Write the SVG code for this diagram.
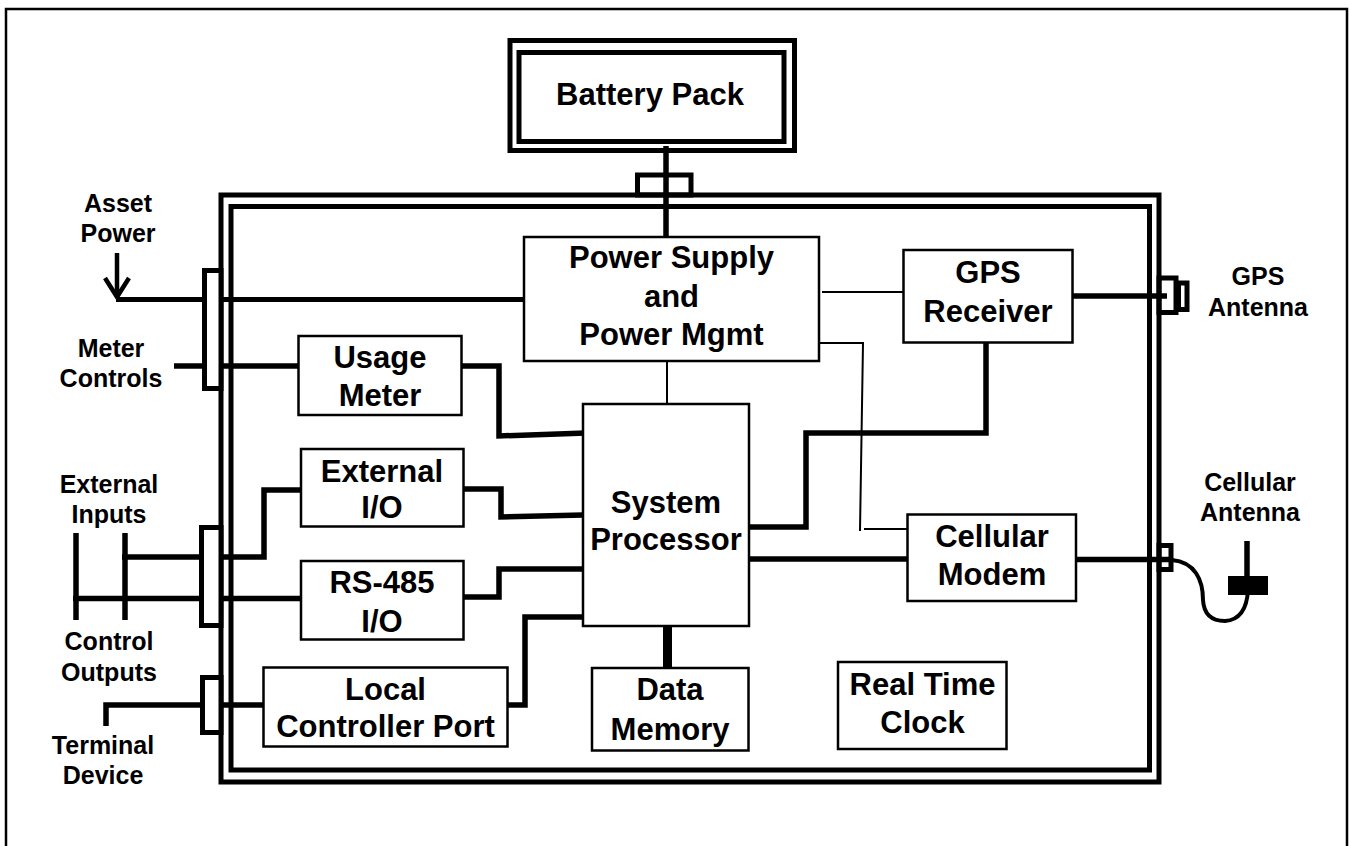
<svg xmlns="http://www.w3.org/2000/svg" width="1350" height="846" viewBox="0 0 1350 846">
<style>
.box{fill:#fff;stroke:#000;stroke-width:2.5}
.dbl{fill:none;stroke:#000;stroke-width:5}
.conn{fill:#fff;stroke:#000;stroke-width:5}
.connn{fill:none;stroke:#000;stroke-width:5}
.thick{fill:none;stroke:#000;stroke-width:5.5}
.thin{fill:none;stroke:#000;stroke-width:2}
.t{font-family:"Liberation Sans",Arial,sans-serif;font-weight:bold;font-size:31px;text-anchor:middle;fill:#000}
.s{font-family:"Liberation Sans",Arial,sans-serif;font-weight:bold;font-size:25px;text-anchor:middle;fill:#000}
</style>
<rect x="0" y="0" width="1350" height="846" fill="#fff"/>
<rect x="6" y="9" width="1341" height="860" fill="none" stroke="#000" stroke-width="2.5"/>
<g id="enclosure">
<rect class="dbl" x="221" y="195" width="938" height="587"/>
<rect class="dbl" x="231" y="206.5" width="918.5" height="563.5"/>
</g>
<g id="connectors">
<line class="thick" x1="666" y1="146" x2="666" y2="237"/>
<line class="thin" x1="667" y1="361" x2="667" y2="404"/>
<line class="thin" x1="822" y1="292" x2="903" y2="292"/>
<polyline class="thin" points="819,343 863,343 860,531"/>
<line class="thin" x1="864" y1="529" x2="907" y2="529"/>
<path class="thick" d="M749,527 H806 V433 H986 V343"/>
<line class="thick" x1="749" y1="559" x2="907" y2="559"/>
<line class="thick" x1="1073" y1="296" x2="1167" y2="296"/>
<line class="thick" x1="1076" y1="559.5" x2="1173" y2="559.5"/>
<path fill="none" stroke="#000" stroke-width="4" d="M1172,560 C1195,562 1203,580 1203,600 C1204,617 1214,621 1225,621 C1240,620 1247,608 1248,590"/>
<rect x="1228" y="576" width="40" height="19" fill="#000"/>
<line class="thick" x1="1247" y1="541" x2="1247" y2="578"/>
<line x1="667.5" y1="626" x2="667.5" y2="668" stroke="#000" stroke-width="9"/>
<path class="thick" d="M462,366 H499 V436 L586,433"/>
<path class="thick" d="M463,489 H501 V517 L583,515"/>
<path class="thick" d="M463,597 H499 V569 H583"/>
<path class="thick" d="M507,705 H525 V617 H583"/>
<line x1="116" y1="299.5" x2="524" y2="299.5" stroke="#000" stroke-width="5"/>
<line x1="117" y1="253" x2="117" y2="296" stroke="#000" stroke-width="4.5"/>
<polyline points="105,278 117,297 129,278" fill="none" stroke="#000" stroke-width="4.5"/>
<line class="thick" x1="174" y1="366" x2="298" y2="366"/>
<line class="thick" x1="76" y1="533" x2="76" y2="620"/>
<line class="thick" x1="125" y1="533" x2="125" y2="620"/>
<path class="thick" d="M122,557 H264 V490 H300"/>
<line class="thick" x1="73" y1="598.5" x2="300" y2="598.5"/>
<path class="thick" d="M106,726 V705 H263"/>
<rect class="conn" x="204.5" y="270.5" width="16.5" height="118"/>
<rect class="conn" x="201.5" y="527.5" width="19.5" height="98"/>
<rect class="conn" x="202.5" y="677.5" width="18.5" height="55"/>
<rect class="connn" x="637.5" y="175" width="53.5" height="20"/>
<rect class="connn" x="1159" y="278" width="17" height="34.5"/>
<rect class="connn" x="1178.5" y="283" width="8.5" height="26.5"/>
<rect class="connn" x="1159" y="545.5" width="12" height="24"/>
</g>
<g id="battery">
<rect class="dbl" x="510" y="40.5" width="284.5" height="110"/>
<rect class="dbl" x="519" y="52.5" width="265" height="89"/>
<text class="t" x="650" y="105">Battery Pack</text>
</g>
<g id="power">
<rect class="box" x="524" y="237" width="295" height="124"/>
<text class="t" x="671.5" y="268">Power Supply</text>
<text class="t" x="671.5" y="306.5">and</text>
<text class="t" x="671.5" y="345">Power Mgmt</text>
</g>
<g id="gps">
<rect class="box" x="903.5" y="250" width="169" height="92.5"/>
<text class="t" x="988" y="283">GPS</text>
<text class="t" x="988" y="322">Receiver</text>
</g>
<g id="usage">
<rect class="box" x="298.5" y="336" width="163" height="79"/>
<text class="t" x="380" y="368">Usage</text>
<text class="t" x="380" y="406">Meter</text>
</g>
<g id="processor">
<rect class="box" x="583" y="404" width="166" height="222"/>
<text class="t" x="666" y="513">System</text>
<text class="t" x="666" y="550">Processor</text>
</g>
<g id="extio">
<rect class="box" x="301" y="449" width="162.5" height="77.5"/>
<text class="t" x="382" y="482">External</text>
<text class="t" x="382" y="518">I/O</text>
</g>
<g id="rs485">
<rect class="box" x="301" y="561" width="162.5" height="78.5"/>
<text class="t" x="382" y="593">RS-485</text>
<text class="t" x="382" y="632">I/O</text>
</g>
<g id="cellmodem">
<rect class="box" x="907.5" y="514.5" width="168.5" height="86.5"/>
<text class="t" x="992" y="547">Cellular</text>
<text class="t" x="992" y="585">Modem</text>
</g>
<g id="localport">
<rect class="box" x="263.5" y="667.5" width="244" height="79"/>
<text class="t" x="385.5" y="700">Local</text>
<text class="t" x="385.5" y="737">Controller Port</text>
</g>
<g id="datamem">
<rect class="box" x="592" y="668" width="156.5" height="82.5"/>
<text class="t" x="670" y="700">Data</text>
<text class="t" x="670" y="740">Memory</text>
</g>
<g id="rtc">
<rect class="box" x="838" y="662" width="168.5" height="87"/>
<text class="t" x="922.5" y="695">Real Time</text>
<text class="t" x="922.5" y="733">Clock</text>
</g>
<g id="labels">
<text class="s" x="118" y="212">Asset</text>
<text class="s" x="118" y="242">Power</text>
<text class="s" x="111" y="357">Meter</text>
<text class="s" x="111" y="387">Controls</text>
<text class="s" x="109" y="493">External</text>
<text class="s" x="109" y="523">Inputs</text>
<text class="s" x="109" y="650">Control</text>
<text class="s" x="109" y="681">Outputs</text>
<text class="s" x="103" y="754">Terminal</text>
<text class="s" x="103" y="784">Device</text>
<text class="s" x="1258" y="285">GPS</text>
<text class="s" x="1258" y="316">Antenna</text>
<text class="s" x="1250" y="491">Cellular</text>
<text class="s" x="1250" y="521">Antenna</text>
</g>
</svg>
